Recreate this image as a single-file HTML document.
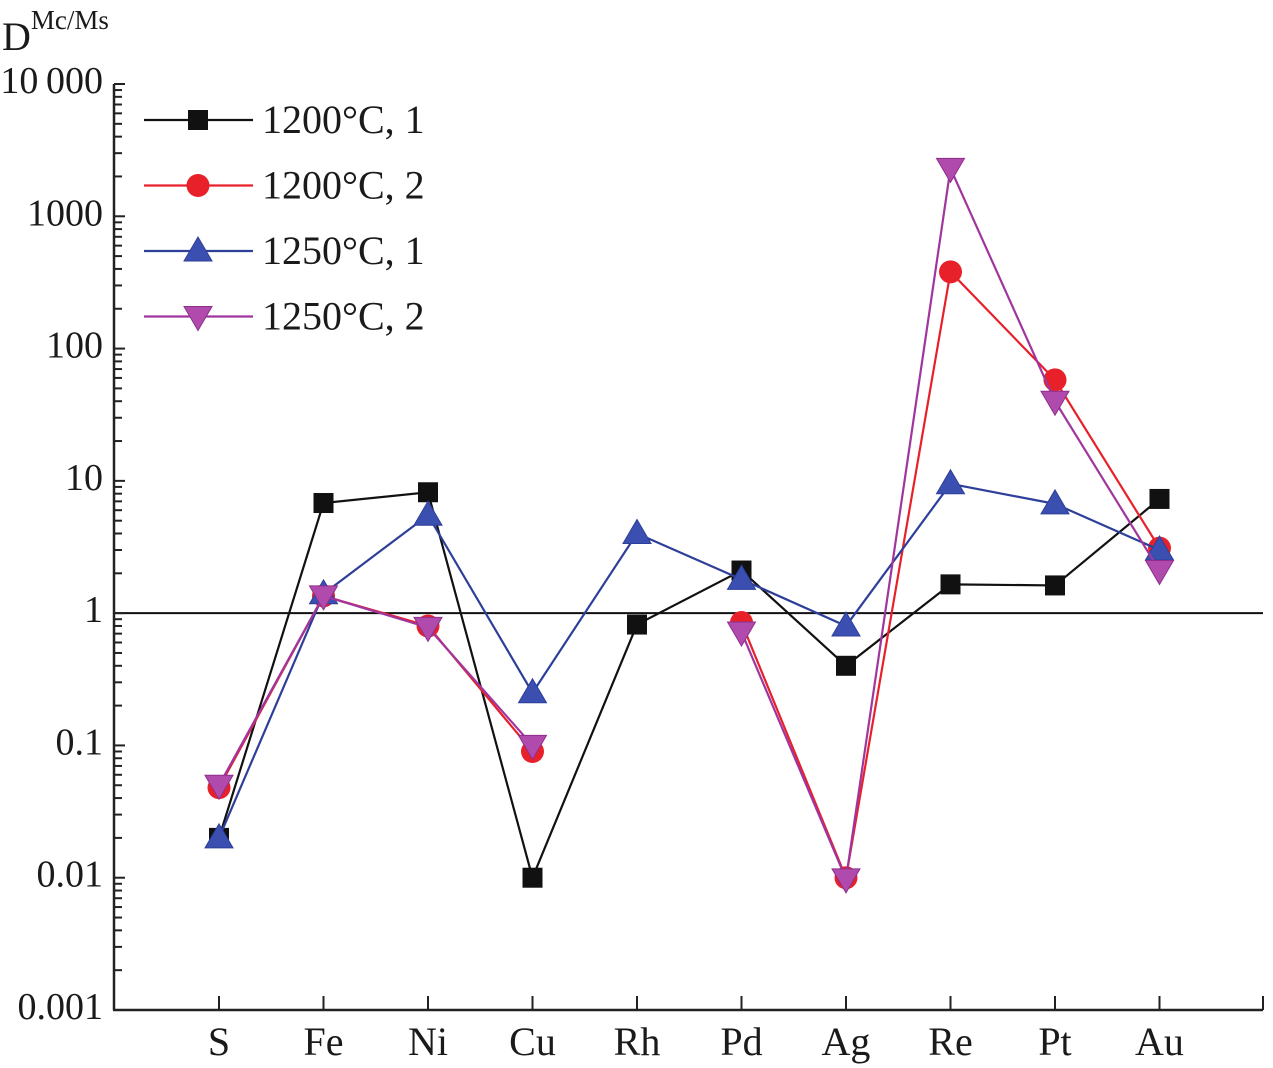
<!DOCTYPE html>
<html><head><meta charset="utf-8"><style>html,body{margin:0;padding:0;background:#fff}svg{display:block}text{font-family:"Liberation Serif",serif;fill:#1a1a1a}</style></head>
<body>
<svg id="chart" width="1273" height="1068" viewBox="0 0 1273 1068" xmlns="http://www.w3.org/2000/svg">
<g id="axes"></g><g id="series"></g><g id="legend"></g>
</svg>
<script>
const categories=["S","Fe","Ni","Cu","Rh","Pd","Ag","Re","Pt","Au"];
const yTickLabels=["0.001","0.01","0.1","1","10","100","1000","10\u2009000"];
const s1=[0.02,6.8,8.2,0.01,0.82,2.1,0.4,1.65,1.62,7.3];
const s2=[0.048,1.35,0.8,0.09,null,0.85,0.01,380,58,3.1];
const s3=[0.02,1.4,5.5,0.25,4,1.8,0.8,9.5,6.7,3.0];
const s4=[0.05,1.35,0.78,0.1,null,0.72,0.0098,2300,40,2.1];
const names=["1200°C, 1","1200°C, 2","1250°C, 1","1250°C, 2"];

const NS="http://www.w3.org/2000/svg";
const X0=114,X1=1263,Y0=1010,Y1=84;
const x=i=>219+i*104.5;
const y=v=>Y0-(Math.log10(v)+3)*(Y0-Y1)/7;
function mk(t,a,p){const e=document.createElementNS(NS,t);for(const k in a)e.setAttribute(k,a[k]);p.appendChild(e);return e;}
const ax=document.getElementById('axes');
const yl=mk('line',{x1:X0,y1:Y0,x2:X0,y2:Y1,stroke:'#222','stroke-width':2.5},ax);


const xl=mk('line',{x1:X0-1,y1:Y0,x2:X1,y2:Y0,stroke:'#222','stroke-width':2.5},ax);


const ref=mk('line',{x1:X0,y1:y(1),x2:X1,y2:y(1),stroke:'#111','stroke-width':2},ax);


for(let d=-3;d<=4;d++){
  const v=Math.pow(10,d);
  mk('line',{x1:X0,y1:y(v),x2:X0+11,y2:y(v),stroke:'#222','stroke-width':2},ax);
  const t=mk('text',{x:103,y:y(v)+9,'text-anchor':'end','font-size':38},ax);
  t.textContent=yTickLabels[d+3];
  
  
  if(d<4)for(let m=2;m<=9;m++)mk('line',{x1:X0,y1:y(v*m),x2:X0+8,y2:y(v*m),stroke:'#222','stroke-width':2},ax);
}
const yt=mk('text',{x:2,y:50,'font-size':40},ax);
yt.innerHTML='D<tspan font-size="27" dy="-21">Mc/Ms</tspan>';


categories.forEach((c,i)=>{
  mk('line',{x1:x(i),y1:Y0,x2:x(i),y2:Y0-14,stroke:'#222','stroke-width':2},ax);
  const t=mk('text',{x:x(i),y:1055,'text-anchor':'middle','font-size':40},ax);
  t.textContent=c;
  
  
});
mk('line',{x1:X1,y1:Y0,x2:X1,y2:Y0-14,stroke:'#222','stroke-width':2},ax);
const cols=["#111","#e8202a","#2e3f9a","#a0359e"];
const fills=["#111","#e8202a","#3a4fb0","#b04aac"];
function marker(k,cx,cy,p){
  if(k==0)return mk('rect',{x:cx-10,y:cy-10,width:20,height:20,fill:fills[0]},p);
  if(k==1)return mk('circle',{cx:cx,cy:cy,r:11.5,fill:fills[1]},p);
  if(k==2)return mk('polygon',{points:`${cx},${cy-14} ${cx+14},${cy+10} ${cx-14},${cy+10}`,fill:fills[2],stroke:'#2e3f9a','stroke-width':1},p);
  return mk('polygon',{points:`${cx},${cy+14} ${cx+14},${cy-10} ${cx-14},${cy-10}`,fill:fills[3],stroke:'#8e2f8c','stroke-width':1},p);
}
const sg=document.getElementById('series');
[s1,s2,s3,s4].forEach((s,k)=>{
  const g=mk('g',{},sg);
  
  
  let segs=[],cur=[];
  s.forEach((v,i)=>{if(v==null){if(cur.length)segs.push(cur);cur=[];}else cur.push(x(i)+','+y(v));});
  if(cur.length)segs.push(cur);
  segs.forEach(sp=>mk('polyline',{points:sp.join(' '),fill:'none',stroke:cols[k],'stroke-width':2.2},g));
  s.forEach((v,i)=>{if(v!=null){const m=marker(k,x(i),y(v),g);
    
    }});
});
const lg=document.getElementById('legend');
names.forEach((n,k)=>{
  const ly=120+k*65.5;
  const g=mk('g',{},lg);
  
  
  mk('line',{x1:144,y1:ly,x2:253,y2:ly,stroke:cols[k],'stroke-width':2.2},g);
  marker(k,198,ly,g);
  const t=mk('text',{x:262,y:ly+13,'font-size':40},g);
  t.textContent=n;
});
</script>
</body></html>
